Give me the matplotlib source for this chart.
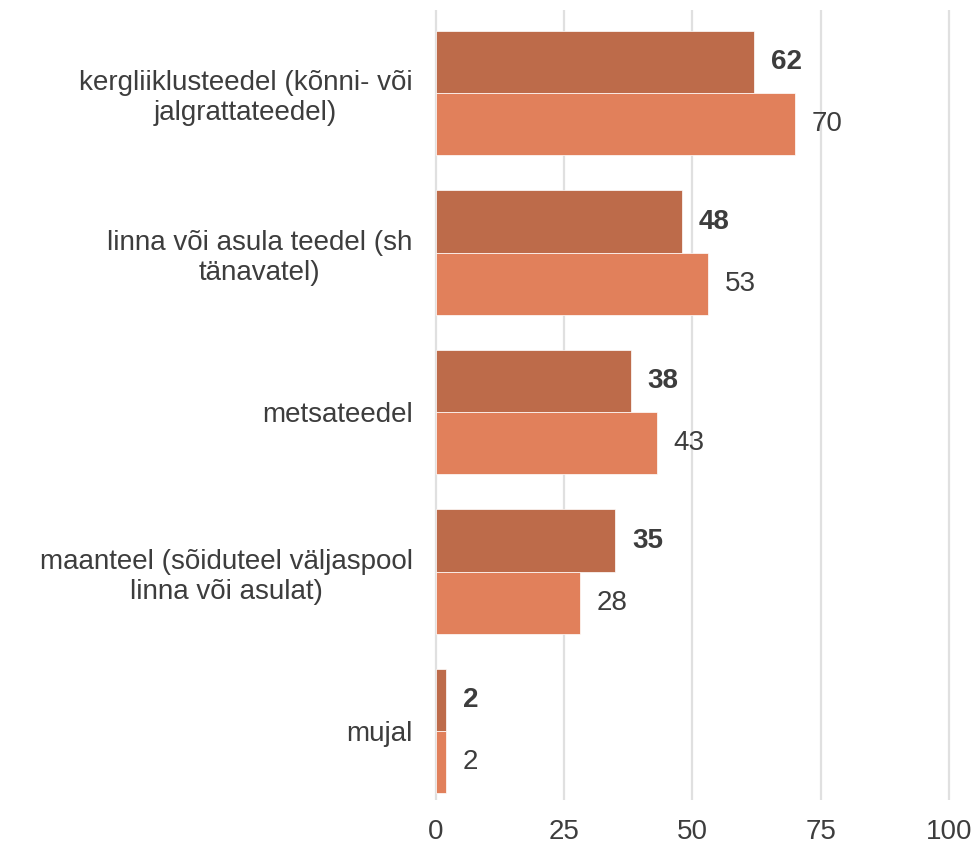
import numpy as np
import matplotlib.pyplot as plt

plt.rcParams['font.family'] = ['Liberation Sans', 'DejaVu Sans']

# andmed
categories = ['kergliiklusteedel (kõnni- või\njalgrattateedel)',
              'linna või asula teedel (sh\ntänavatel)',
              'metsateedel',
              'maanteel (sõiduteel väljaspool\nlinna või asulat)',
              'mujal']
series_a = [62, 48, 38, 35, 2]
series_b = [70, 53, 43, 28, 2]
ticks = [0, 25, 50, 75, 100]

dark = '#BD6B4A'
light = '#E1805B'
txt = '#3d3d3d'

fig = plt.figure(figsize=(9.75, 8.49), dpi=100)
ax = fig.add_axes([0.4445, 0.058, 0.555, 0.930])

y = np.arange(len(categories))
h = 0.39
ax.barh(y - h / 2, series_a, height=h, color=dark, edgecolor='white', linewidth=0.5, zorder=2)
ax.barh(y + h / 2, series_b, height=h, color=light, edgecolor='white', linewidth=0.5, zorder=2)

for yi, a, b in zip(y, series_a, series_b):
    ax.annotate(str(a), (a, yi - h / 2), xytext=(12, 0), textcoords='offset points',
                ha='left', va='center', fontsize=20, fontweight='bold', color=txt)
    ax.annotate(str(b), (b, yi + h / 2), xytext=(12, 0), textcoords='offset points',
                ha='left', va='center', fontsize=20, color=txt)

ax.set_xlim(-0.5, 105)
ax.set_ylim(4.43, -0.52)
ax.set_xticks(ticks)
ax.set_xticklabels([str(t) for t in ticks], fontsize=20, color=txt)
ax.set_yticks(y)
ax.set_yticklabels(categories, fontsize=20, color=txt, ha='right', multialignment='center')
ax.tick_params(axis='y', length=0, pad=15)
ax.tick_params(axis='x', length=0, pad=14)
ax.grid(axis='x', color='#e0e0e0', linewidth=1.6, zorder=0)
ax.set_axisbelow(True)
for s in ax.spines.values():
    s.set_visible(False)

fig.savefig('out.png', dpi=100)
